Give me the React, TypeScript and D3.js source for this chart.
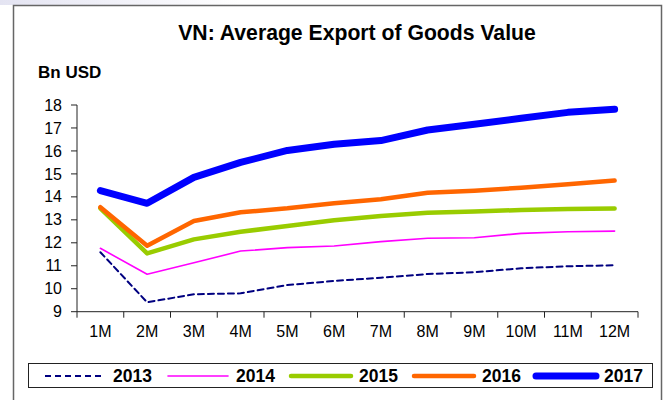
import React from "react";
import * as d3 from "d3";

const months = ["1M", "2M", "3M", "4M", "5M", "6M", "7M", "8M", "9M", "10M", "11M", "12M"];
const yTicks = [9, 10, 11, 12, 13, 14, 15, 16, 17, 18];
const v2013 = [11.59, 9.41, 9.76, 9.8, 10.16, 10.34, 10.48, 10.64, 10.72, 10.89, 10.98, 11.02];
const v2014 = [11.76, 10.63, 11.13, 11.64, 11.79, 11.86, 12.05, 12.2, 12.22, 12.41, 12.48, 12.51];
const v2015 = [13.5, 11.54, 12.15, 12.48, 12.73, 12.98, 13.17, 13.31, 13.36, 13.43, 13.47, 13.49];
const v2016 = [13.55, 11.87, 12.95, 13.33, 13.5, 13.72, 13.9, 14.18, 14.27, 14.4, 14.55, 14.71];
const v2017 = [14.27, 13.72, 14.85, 15.5, 16.02, 16.29, 16.45, 16.91, 17.16, 17.42, 17.68, 17.81];
const seriesNames = ["2013", "2014", "2015", "2016", "2017"];

const styles = [
  { color: "#000080", width: 2, dash: "6,4" },
  { color: "#FF00FF", width: 1.6, dash: "" },
  { color: "#99CC00", width: 4.5, dash: "" },
  { color: "#FF6600", width: 4.5, dash: "" },
  { color: "#0000FF", width: 7, dash: "" },
];

export default function App() {
  const W = 665, H = 400;
  const x0 = 77, x1 = 638, yTop = 105, yBot = 311.7;
  const x = d3.scaleBand<string>().domain(months).range([x0, x1]);
  const y = d3.scaleLinear().domain([9, 18]).range([yBot, yTop]);
  const allSeries = [v2013, v2014, v2015, v2016, v2017];
  const line = d3
    .line<number>()
    .x((_, i) => (x(months[i]) as number) + x.bandwidth() / 2)
    .y((d) => y(d));
  const font = "'Liberation Sans', Arial, sans-serif";
  const legendStarts = [45, 168, 291, 414, 536];
  const legendY = 376;

  return (
    <svg width={W} height={H} style={{ position: "absolute", left: 0, top: 0 }} fontFamily={font}>
      <defs>
        <linearGradient id="tg" x1="0" x2="1" y1="0" y2="0">
          <stop offset="0" stopColor="#e4e4f2" />
          <stop offset="1" stopColor="#ffffff" />
        </linearGradient>
      </defs>
      <rect x={0} y={0} width={W} height={H} fill="#fff" />
      <rect x={0} y={0} width={240} height={5} fill="url(#tg)" />
      <rect x={13.5} y={5.5} width={648} height={420} fill="none" stroke="#666" strokeWidth={1.5} />
      <text x={357} y={40} textAnchor="middle" fontWeight="bold" fontSize={21.2}>
        VN: Average Export of Goods Value
      </text>
      <text x={38} y={78} fontWeight="bold" fontSize={17}>
        Bn USD
      </text>
      {/* axes */}
      <line x1={x0} x2={x0} y1={yTop} y2={yBot} stroke="#222" strokeWidth={1} />
      <line x1={x0} x2={x1} y1={yBot} y2={yBot} stroke="#222" strokeWidth={1} />
      {yTicks.map((t) => (
        <g key={t}>
          <line x1={x0 - 6} x2={x0} y1={y(t)} y2={y(t)} stroke="#222" />
          <text x={62} y={y(t)} dy="0.35em" textAnchor="end" fontSize={16}>
            {t}
          </text>
        </g>
      ))}
      {months.map((m, i) => (
        <g key={m}>
          <line x1={x(m) as number} x2={x(m) as number} y1={yBot} y2={yBot + 6} stroke="#222" />
          {i === months.length - 1 && (
            <line x1={x1} x2={x1} y1={yBot} y2={yBot + 6} stroke="#222" />
          )}
          <text x={(x(m) as number) + x.bandwidth() / 2} y={331} dy="0.35em" textAnchor="middle" fontSize={16}>
            {m}
          </text>
        </g>
      ))}
      {/* lines */}
      {allSeries.map((s, i) => (
        <path
          key={seriesNames[i]}
          d={line(s) as string}
          fill="none"
          stroke={styles[i].color}
          strokeWidth={styles[i].width}
          strokeDasharray={styles[i].dash || undefined}
          strokeLinejoin="round"
          strokeLinecap="round"
        />
      ))}
      {/* legend */}
      <rect x={28.5} y={363.5} width={624} height={24} fill="#fff" stroke="#222" strokeWidth={1} />
      {seriesNames.map((n, i) => (
        <g key={n}>
          <line
            x1={legendStarts[i]}
            x2={legendStarts[i] + 60}
            y1={legendY}
            y2={legendY}
            stroke={styles[i].color}
            strokeWidth={styles[i].width}
            strokeDasharray={styles[i].dash || undefined}
            strokeLinecap={styles[i].dash ? "butt" : "round"}
          />
          <text x={legendStarts[i] + 68} y={legendY} dy="0.36em" fontWeight="bold" fontSize={17.5}>
            {n}
          </text>
        </g>
      ))}
    </svg>
  );
}
